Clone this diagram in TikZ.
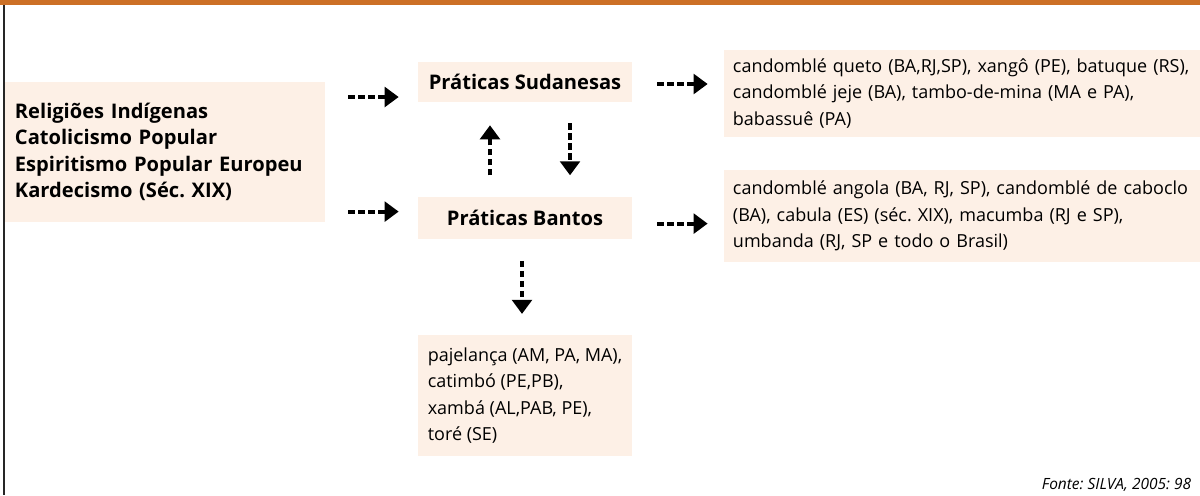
\documentclass[tikz,border=0pt]{standalone}
\usepackage{fontspec}
\setmainfont{Open Sans}
\usetikzlibrary{arrows.meta,positioning}
\definecolor{peach}{RGB}{253,240,230}
\definecolor{rust}{RGB}{204,112,38}
\frenchspacing

\begin{document}
\begin{tikzpicture}[
  x=0.025cm, y=-0.025cm,
  every node/.style={font=\fontsize{12.8}{18.9}\selectfont},
  box/.style={fill=peach, inner ysep=0pt},
  head/.style={box, font=\fontsize{14.3}{18.7}\selectfont\bfseries, minimum width=5.35cm},
  list/.style={box, align=left, inner xsep=0.25cm},
  flow/.style={line width=2.8pt, dash pattern=on 4.5pt off 2.6pt, -{Triangle[width=14pt,length=10pt]}}
]
\useasboundingbox (0,0) rectangle (1200,495);
% frame
\fill[rust] (0,0) rectangle (1200,5);
\draw[line width=1.3pt, black!85] (4,5) -- (4,495);

% sources
\node[list, text width=7.5cm, minimum height=3.5cm, font=\fontsize{14.3}{18.7}\selectfont\bfseries] (src) at (165,152)
  {Religiões Indígenas\\Catolicismo Popular\\Espiritismo Popular Europeu\\Kardecismo (Séc. XIX)};

% practices
\node[head, minimum height=1cm] (sud) at (525,82) {Práticas Sudanesas};
\node[head, minimum height=1.05cm, below=2.35cm of sud] (bant) {Práticas Bantos};

% outcomes
\node[list, text width=11.45cm, inner xsep=0.225cm, minimum height=2.175cm] (rtop) at (962,93.5)
  {candomblé queto (BA,RJ,SP), xangô (PE), batuque (RS),\\candomblé jeje (BA), tambo-de-mina (MA e PA),\\babassuê (PA)};
\node[list, text width=11.45cm, inner xsep=0.225cm, minimum height=2.3cm] (rbot) at (962,216)
  {candomblé angola (BA, RJ, SP), candomblé de caboclo\\(BA), cabula (ES) (séc. XIX), macumba (RJ e SP),\\umbanda (RJ, SP e todo o Brasil)};
\node[list, minimum width=5.35cm, minimum height=3.025cm, inner xsep=0.2cm, below=2.4cm of bant] (bot)
  {pajelança (AM, PA, MA),\\catimbó (PE,PB),\\xambá (AL,PAB, PE),\\toré (SE)};

\node[anchor=east, font=\fontsize{11}{13}\selectfont\itshape] (fonte) at (1196,485) {Fonte: SILVA, 2005: 98};

% connectors
\coordinate[below=0.375cm of sud.west] (sudin);
\coordinate[above=0.15cm of bant.west] (bantin);
\draw[flow, shorten <=0.575cm, shorten >=0.475cm] (src.east |- sudin) -- (sudin);
\draw[flow, shorten <=0.575cm, shorten >=0.475cm] (src.east |- bantin) -- (bantin);
\draw[flow, shorten <=0.625cm, shorten >=0.4cm] ([yshift=-0.05cm]sud.east) -- ([yshift=-0.05cm]sud.east -| rtop.west);
\draw[flow, shorten <=0.625cm, shorten >=0.4cm] ([yshift=-0.15cm]bant.east) -- ([yshift=-0.15cm]bant.east -| rbot.west);
\draw[flow, shorten <=0.525cm, shorten >=0.575cm] ([xshift=-0.875cm]bant.north) -- ([xshift=-0.875cm]sud.south);
\draw[flow, shorten <=0.525cm, shorten >=0.525cm] ([xshift=1.125cm]sud.south) -- ([xshift=1.125cm]bant.north);
\draw[flow, shorten <=0.55cm, shorten >=0.525cm] ([xshift=-0.075cm]bant.south) -- ([xshift=-0.075cm]bot.north);
\end{tikzpicture}
\end{document}
